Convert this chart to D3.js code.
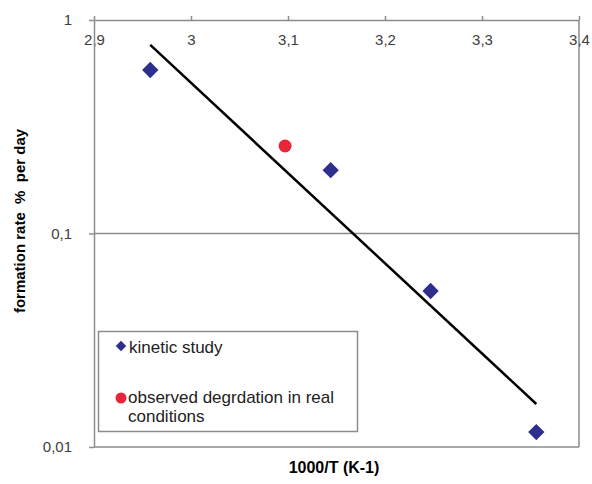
<!DOCTYPE html>
<html>
<head>
<meta charset="utf-8">
<script src="https://cdn.jsdelivr.net/npm/d3@7"></script>
<style>
  body { margin: 0; background: #fff; }
  svg text { font-family: "Liberation Sans", Arial, sans-serif; }
</style>
</head>
<body>
<div id="container"></div>
<script>
// data
const kineticX = [2.958, 3.144, 3.247, 3.356];
const kineticY = [0.583, 0.198, 0.0538, 0.01175];
const observedX = [3.097];
const observedY = [0.257];
const trendX = [2.958, 3.356];
const trendY = [0.764, 0.0159];
const xTicks = [2.9, 3.0, 3.1, 3.2, 3.3, 3.4];
const yTicks = [1, 0.1, 0.01];

const width = 592, height = 484;
const margin = { top: 20, right: 13, bottom: 37, left: 94 };

const svg = d3.select("#container").append("svg")
    .attr("width", width)
    .attr("height", height);

const x = d3.scaleLinear()
    .domain([2.9, 3.4])
    .range([margin.left, width - margin.right]);

const y = d3.scaleLog()
    .domain([0.01, 1])
    .range([height - margin.bottom, margin.top]);

const fmt = d => String(d).replace(".", ",");
const axisColor = "#8c8c8c";

// gridline at 0.1
svg.append("line")
    .attr("x1", x(2.9)).attr("x2", x(3.4))
    .attr("y1", y(0.1)).attr("y2", y(0.1))
    .attr("stroke", axisColor).attr("stroke-width", 1.5);

// bottom and right border
svg.append("line")
    .attr("x1", x(2.9)).attr("x2", x(3.4))
    .attr("y1", y(0.01)).attr("y2", y(0.01))
    .attr("stroke", axisColor).attr("stroke-width", 1.5);
svg.append("line")
    .attr("x1", x(3.4)).attr("x2", x(3.4))
    .attr("y1", y(1)).attr("y2", y(0.01))
    .attr("stroke", axisColor).attr("stroke-width", 1.5);

// top x axis (crosses at y = 1)
const xAxis = svg.append("g")
    .attr("transform", `translate(0,${y(1)})`)
    .call(d3.axisTop(x).tickValues(xTicks).tickFormat(fmt).tickSize(4).tickSizeOuter(0));
xAxis.select(".domain").attr("stroke", axisColor).attr("stroke-width", 1.5);
xAxis.selectAll(".tick line").attr("stroke", axisColor).attr("stroke-width", 1.5);
xAxis.selectAll(".tick text")
    .attr("y", 25)
    .attr("fill", "#404040")
    .attr("font-size", 15);

// left y axis
const yAxis = svg.append("g")
    .attr("transform", `translate(${x(2.9)},0)`)
    .call(d3.axisLeft(y).tickValues(yTicks).tickFormat(fmt).tickSize(5).tickSizeOuter(0));
yAxis.select(".domain").attr("stroke", axisColor).attr("stroke-width", 1.5);
yAxis.selectAll(".tick line").attr("stroke", axisColor).attr("stroke-width", 1.5);
yAxis.selectAll(".tick text")
    .attr("x", -22)
    .attr("fill", "#404040")
    .attr("font-size", 15);

// trend line
svg.append("line")
    .attr("x1", x(trendX[0])).attr("y1", y(trendY[0]))
    .attr("x2", x(trendX[1])).attr("y2", y(trendY[1]))
    .attr("stroke", "#000").attr("stroke-width", 2.5);

const diamond = d3.symbol().type(d3.symbolDiamond2);

// kinetic study points
svg.selectAll(".kin")
    .data(kineticX.map((v, i) => ({ x: v, y: kineticY[i] })))
    .join("path")
    .attr("class", "kin")
    .attr("transform", d => `translate(${x(d.x)},${y(d.y)})`)
    .attr("d", diamond.size(170))
    .attr("fill", "#2e2e8c");

// observed point
svg.selectAll(".obs")
    .data(observedX.map((v, i) => ({ x: v, y: observedY[i] })))
    .join("circle")
    .attr("class", "obs")
    .attr("cx", d => x(d.x))
    .attr("cy", d => y(d.y))
    .attr("r", 6.5)
    .attr("fill", "#e8263a");

// legend
const leg = svg.append("g");
leg.append("rect")
    .attr("x", 98.5).attr("y", 331.5)
    .attr("width", 259).attr("height", 100)
    .attr("fill", "#fff")
    .attr("stroke", axisColor).attr("stroke-width", 1.5);
leg.append("path")
    .attr("transform", "translate(121,346)")
    .attr("d", diamond.size(70))
    .attr("fill", "#2e2e8c");
leg.append("text")
    .attr("x", 129).attr("y", 353)
    .attr("font-size", 17).attr("fill", "#222")
    .text("kinetic study");
leg.append("circle")
    .attr("cx", 121).attr("cy", 398).attr("r", 5.5)
    .attr("fill", "#e8263a");
leg.append("text")
    .attr("x", 128).attr("y", 403)
    .attr("font-size", 17).attr("fill", "#222")
    .text("observed degrdation in real");
leg.append("text")
    .attr("x", 128).attr("y", 422)
    .attr("font-size", 17).attr("fill", "#222")
    .text("conditions");

// axis titles
svg.append("text")
    .attr("x", 334).attr("y", 473)
    .attr("text-anchor", "middle")
    .attr("font-size", 16).attr("font-weight", "bold")
    .text("1000/T (K-1)");

svg.append("text")
    .attr("transform", "translate(25,221) rotate(-90)")
    .attr("text-anchor", "middle")
    .attr("font-size", 15).attr("font-weight", "bold")
    .style("white-space", "pre")
    .text("formation rate  %  per day");
</script>
</body>
</html>
